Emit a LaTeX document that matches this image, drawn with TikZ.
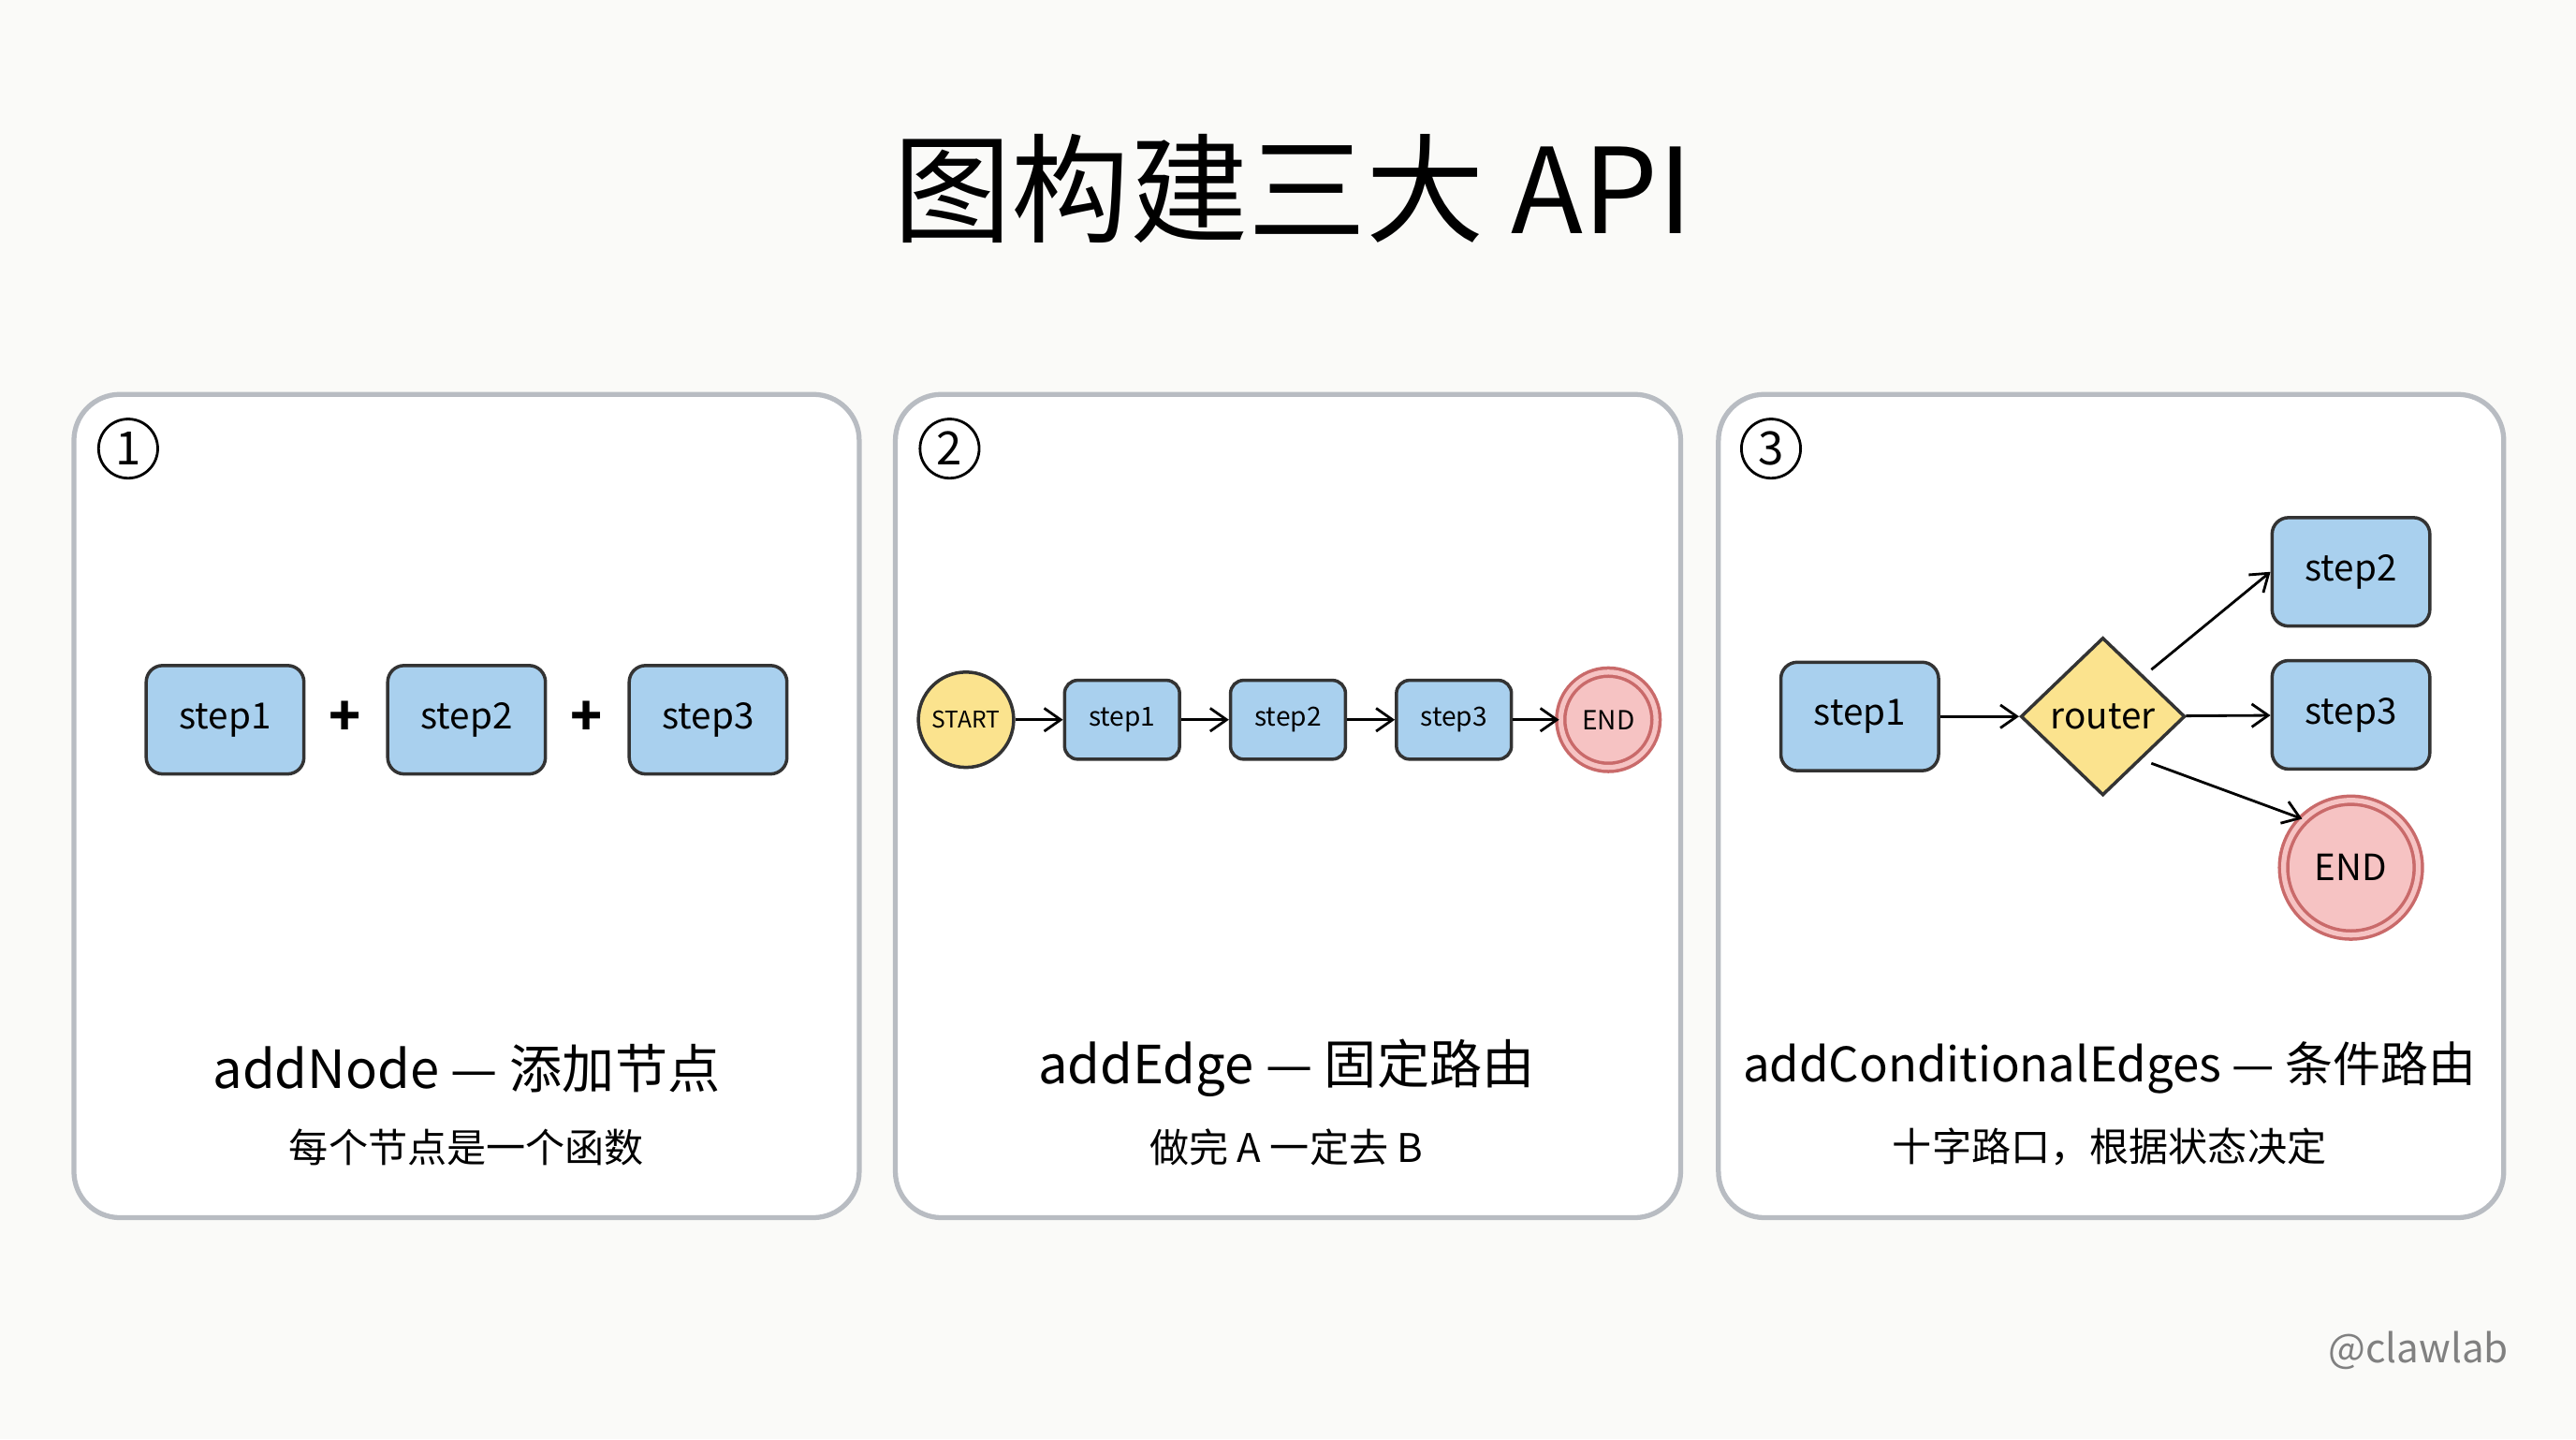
\documentclass[tikz,border=0pt]{standalone}
\usepackage{fontspec}
\setmainfont{Noto Sans CJK SC}
\usetikzlibrary{arrows.meta,shapes.geometric}
\definecolor{bg}{HTML}{FAFAF8}
\definecolor{bx}{HTML}{A9D0EE}
\definecolor{yl}{HTML}{FBE38E}
\definecolor{pk}{HTML}{F6C3C3}
\definecolor{pkd}{HTML}{C96A6A}
\definecolor{pan}{HTML}{B8BCC2}
\begin{document}
\begin{tikzpicture}[x=0.5pt,y=-0.5pt,
 panel/.style={draw=pan,line width=1.5pt,rounded corners=14pt,fill=white},
 num/.style={circle,draw,line width=0.8pt,minimum size=18pt,inner sep=0pt,font=\fontsize{14}{14}\selectfont},
 box/.style={draw=black!80,fill=bx,line width=1pt,rounded corners=5pt,minimum width=48pt,minimum height=33pt,font=\fontsize{11}{11}\selectfont},
 sbox/.style={box,minimum width=35pt,minimum height=24pt,rounded corners=4pt,font=\fontsize{8}{8}\selectfont},
 arr/.style={-{Straight Barb[length=5pt,width=7pt]},line width=0.8pt},
 lab/.style={font=\fontsize{16}{16}\selectfont},
 sub/.style={font=\fontsize{12}{12}\selectfont}]
\fill[bg] (0,0) rectangle (1568,876);
\node[font=\fontsize{36}{36}\selectfont] (title) at (787,115) {图构建三大 API};
\draw[panel] (45,240) rectangle (523,741);
\draw[panel] (545,240) rectangle (1023,741);
\draw[panel] (1046,240) rectangle (1524,741);
\node[num] (n1) at (78,273) {1};
\node[num] (n2) at (578,273) {2};
\node[num] (n3) at (1078,273) {3};
% panel 1
\node[box] (a1) at (137,438) {step1};
\node[box] (a2) at (284,438) {step2};
\node[box] (a3) at (431,438) {step3};
\node[font=\fontsize{16}{16}\selectfont\bfseries] (p1) at (210,437) {+};
\node[font=\fontsize{16}{16}\selectfont\bfseries] (p2) at (357,437) {+};
\node[lab] (l1) at (284,650) {addNode — 添加节点};
\node[sub] (s1) at (284,698) {每个节点是一个函数};
% panel 2
\node[circle,draw=black!80,fill=yl,line width=1pt,minimum size=29pt,inner sep=0pt,font=\fontsize{7}{7}\selectfont] (st) at (588,438) {START};
\node[sbox] (b1) at (683,438) {step1};
\node[sbox] (b2) at (784,438) {step2};
\node[sbox] (b3) at (885,438) {step3};
\node[circle,draw=pkd,fill=pk,line width=1pt,minimum size=29pt,inner sep=0pt,double=pk,double distance=1.5pt,font=\fontsize{8}{8}\selectfont] (en) at (979,438) {END};
\draw[arr] (st) -- (b1);
\draw[arr] (b1) -- (b2);
\draw[arr] (b2) -- (b3);
\draw[arr] (b3) -- (en);
\node[lab] (l2) at (783,650) {addEdge — 固定路由};
\node[sub] (s2) at (783,698) {做完 A 一定去 B};
% panel 3
\node[box] (c1) at (1132,436) {step1};
\node[diamond,draw=black!80,fill=yl,line width=1pt,minimum width=50pt,minimum height=48pt,inner sep=0pt,font=\fontsize{11}{11}\selectfont] (r) at (1280,436) {router};
\node[box] (c2) at (1431,348) {step2};
\node[box] (c3) at (1431,435) {step3};
\node[circle,draw=pkd,fill=pk,line width=1pt,minimum size=41pt,inner sep=0pt,double=pk,double distance=1.5pt,font=\fontsize{11}{11}\selectfont] (e3) at (1431,528) {END};
\draw[arr] (c1) -- (r);
\draw[arr] ([shift={(4,-4)}]r.north east) -- (c2.west);
\draw[arr] (r) -- (c3);
\draw[arr] ([shift={(4,4)}]r.south east) -- (e3.north west);
\node[font=\fontsize{14.5}{14.5}\selectfont] (l3) at (1284,650) {addConditionalEdges — 条件路由};
\node[sub] (s3) at (1284,698) {十字路口，根据状态决定};
\node[font=\fontsize{12}{12}\selectfont,text=black!50] (w) at (1472,822) {@clawlab};
\end{tikzpicture}
\end{document}
